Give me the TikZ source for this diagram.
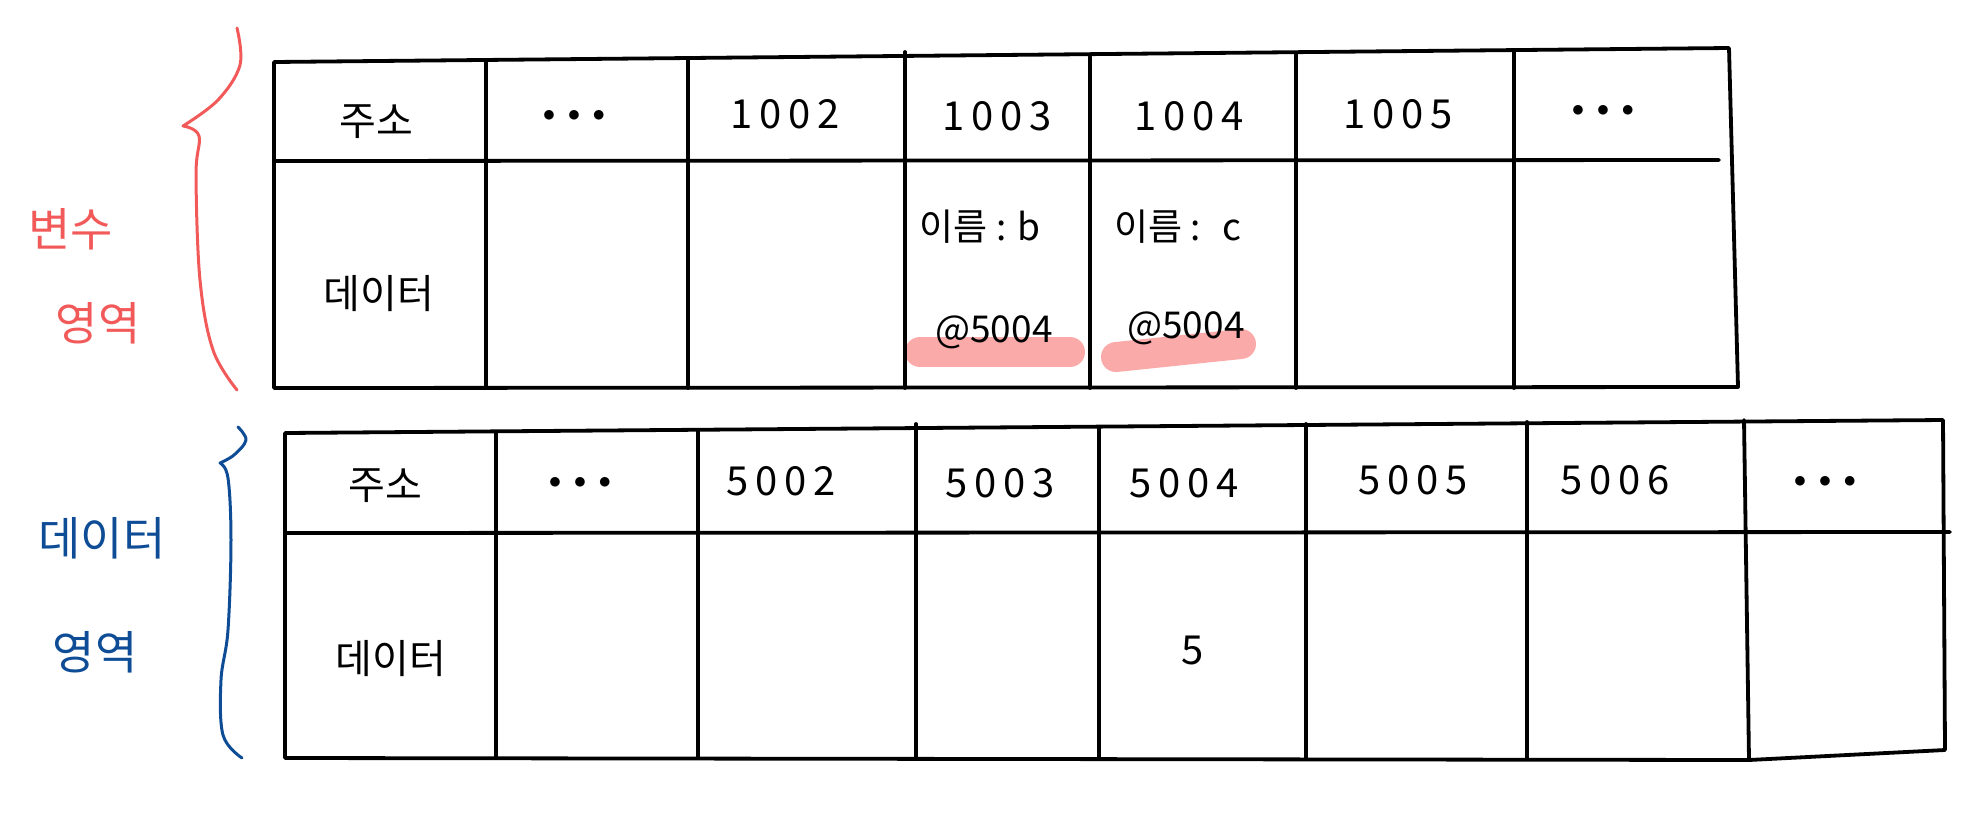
\documentclass[tikz,border=0pt]{standalone}
\usepackage{fontspec}
\setmainfont{Noto Sans CJK KR}
\definecolor{redink}{HTML}{F25A5A}
\definecolor{blueink}{HTML}{0E4C96}
\definecolor{hl}{HTML}{FBAAAA}
\begin{document}
\begin{tikzpicture}[x=1pt,y=-1pt,
  grid/.style={line width=3.8pt,line cap=round,line join=round,black},
  txt/.style={font=\fontsize{40}{44}\selectfont,inner sep=0pt},
  small/.style={font=\fontsize{37}{40}\selectfont,inner sep=0pt},
  redlab/.style={font=\fontsize{46}{50}\selectfont,text=redink,inner sep=0pt},
  bluelab/.style={font=\fontsize{46}{50}\selectfont,text=blueink,inner sep=0pt},
  hilite/.style={line width=30pt,line cap=round,hl}]
\useasboundingbox (0,0) rectangle (1979,815);
% highlights
\draw[hilite] (920,352) -- (1070,352);
\draw[hilite] (1116,357) -- (1241,344);
% ---------- top table ----------
\coordinate (t1) at (274,62); \coordinate (t2) at (1729,48);
\coordinate (t3) at (1738,387); \coordinate (t4) at (274,388);
\draw[grid] (t1) -- (t2) -- (t3) -- (t4) -- cycle;
\draw[grid] (274,161) -- (1719,160);
\foreach \x/\a/\b in {486/62/388, 688/60/388, 905/52/388, 1090/57/388, 1296/54/388, 1514/52/388}
  \draw[grid] (\x,\a) -- (\x,\b);
\node[txt] (ta) at (376,122) {주소};
\node[txt] (tb) at (574,116) {$\bullet\;\bullet\;\bullet$};
\node[txt] (tc) at (785,114) {1\,0\,0\,2};
\node[txt] (td) at (997,116) {1\,0\,0\,3};
\node[txt] (te) at (1189,116) {1\,0\,0\,4};
\node[txt] (tf) at (1398,114) {1\,0\,0\,5};
\node[txt] (tg) at (1603,111) {$\bullet\;\bullet\;\bullet$};
\node[txt] (th) at (379,294) {데이터};
\node[small] (ti) at (980,227) {이름 : b};
\node[small] (tj) at (994,332) {@5004};
\node[small] (tk) at (1178,227) {이름 :\; c};
\node[small] (tl) at (1186,328) {@5004};
% ---------- bottom table ----------
\coordinate (b1) at (285,433); \coordinate (b2) at (1943,420);
\coordinate (b3) at (1945,750); \coordinate (b4) at (1749,760);
\coordinate (b5) at (285,758);
\draw[grid] (b1) -- (b2) -- (b3) -- (b4) -- (b5) -- cycle;
\draw[grid] (285,533) -- (1950,532);
\foreach \x/\a/\b in {496/433/758, 698/431/758, 916/424/758, 1099/428/758, 1306/424/758, 1527/422/758}
  \draw[grid] (\x,\a) -- (\x,\b);
\draw[grid] (1744,420) -- (1749,760);
\node[txt] (ba) at (385,486) {주소};
\node[txt] (bb) at (580,483) {$\bullet\;\bullet\;\bullet$};
\node[txt] (bc) at (781,481) {5\,0\,0\,2};
\node[txt] (bd) at (1000,483) {5\,0\,0\,3};
\node[txt] (be) at (1184,483) {5\,0\,0\,4};
\node[txt] (bf) at (1413,480) {5\,0\,0\,5};
\node[txt] (bg) at (1615,480) {5\,0\,0\,6};
\node[txt] (bh) at (1825,482) {$\bullet\;\bullet\;\bullet$};
\node[txt] (bi) at (391,659) {데이터};
\node[txt] (bj) at (1193,650) {5};
% ---------- braces & labels ----------
\draw[redink,line width=3pt,line cap=round,line join=round]
  plot[smooth,tension=0.6] coordinates {(237,28) (240,65) (218,100) (183,126)}
  plot[smooth,tension=0.6] coordinates {(183,126) (199,136) (196,175) (200,280) (213,350) (237,390)};
\draw[blueink,line width=3pt,line cap=round,line join=round]
  plot[smooth,tension=0.6] coordinates {(238,427) (246,440) (234,455) (220,463)}
  plot[smooth,tension=0.6] coordinates {(220,463) (228,478) (231,540) (228,630) (221,680) (223,735) (242,758)};
\node[redlab] (rl1) at (71,229) {변수};
\node[redlab] (rl2) at (98,323) {영역};
\node[bluelab] (bl1) at (102,538) {데이터};
\node[bluelab] (bl2) at (95,652) {영역};
\end{tikzpicture}
\end{document}
